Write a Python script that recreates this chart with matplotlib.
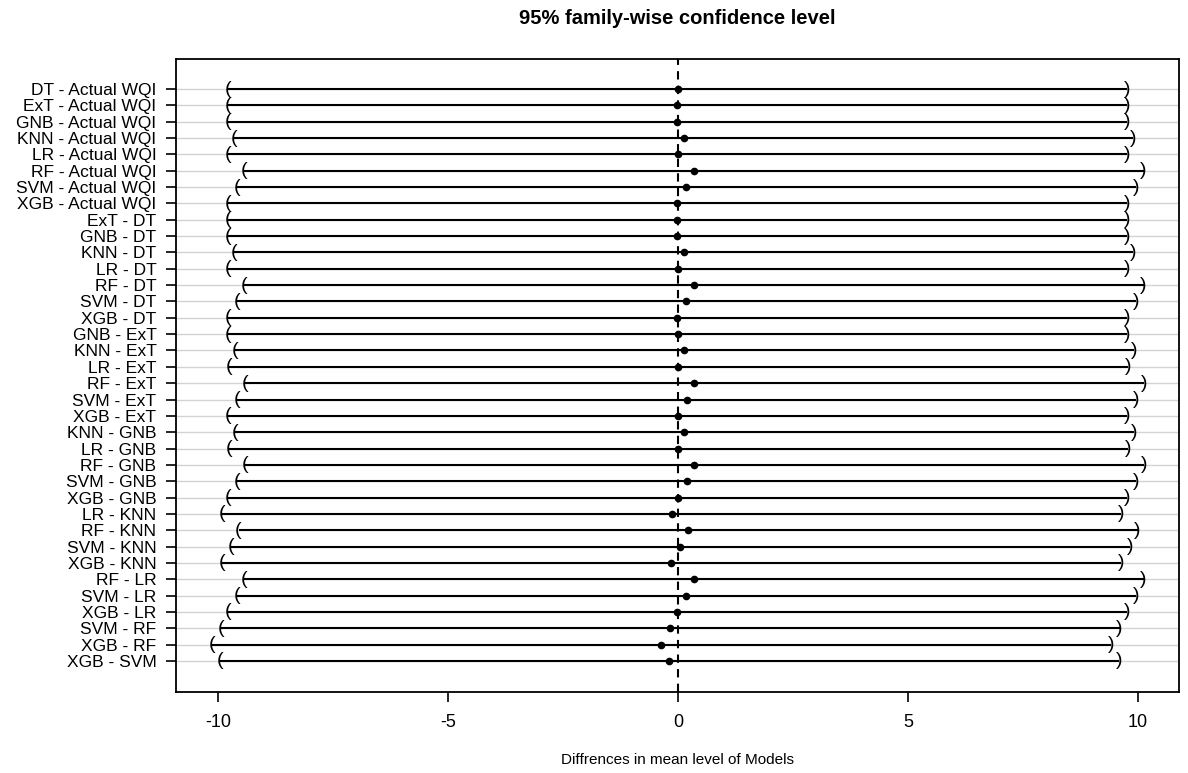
import numpy as np
import matplotlib
matplotlib.use("Agg")
from matplotlib import pyplot as plt

plt.rcParams['font.family'] = ['Liberation Sans', 'DejaVu Sans']

# comparaciones (de arriba hacia abajo)
comparisons = ["DT - Actual WQI", "ExT - Actual WQI", "GNB - Actual WQI", "KNN - Actual WQI",
               "LR - Actual WQI", "RF - Actual WQI", "SVM - Actual WQI", "XGB - Actual WQI",
               "ExT - DT", "GNB - DT", "KNN - DT", "LR - DT", "RF - DT", "SVM - DT", "XGB - DT",
               "GNB - ExT", "KNN - ExT", "LR - ExT", "RF - ExT", "SVM - ExT", "XGB - ExT",
               "KNN - GNB", "LR - GNB", "RF - GNB", "SVM - GNB", "XGB - GNB",
               "LR - KNN", "RF - KNN", "SVM - KNN", "XGB - KNN",
               "RF - LR", "SVM - LR", "XGB - LR", "SVM - RF", "XGB - RF", "XGB - SVM"]

diff = [0.00, -0.01, -0.01, 0.13, 0.00, 0.35, 0.18, -0.01,
        -0.01, -0.01, 0.13, 0.00, 0.35, 0.18, -0.01,
        0.00, 0.14, 0.01, 0.36, 0.19, 0.00,
        0.14, 0.01, 0.36, 0.19, 0.00,
        -0.13, 0.22, 0.05, -0.14,
        0.35, 0.18, -0.01, -0.17, -0.36, -0.19]

lwr = [-9.77, -9.78, -9.78, -9.64, -9.77, -9.42, -9.59, -9.78,
       -9.78, -9.78, -9.64, -9.77, -9.42, -9.59, -9.78,
       -9.77, -9.63, -9.76, -9.41, -9.58, -9.77,
       -9.63, -9.76, -9.41, -9.58, -9.77,
       -9.90, -9.55, -9.72, -9.91,
       -9.42, -9.59, -9.78, -9.94, -10.13, -9.96]

upr = [9.77, 9.76, 9.76, 9.90, 9.77, 10.12, 9.95, 9.76,
       9.76, 9.76, 9.90, 9.77, 10.12, 9.95, 9.76,
       9.77, 9.91, 9.78, 10.13, 9.96, 9.77,
       9.91, 9.78, 10.13, 9.96, 9.77,
       9.64, 9.99, 9.82, 9.63,
       10.12, 9.95, 9.76, 9.60, 9.41, 9.58]

n = len(comparisons)
yvals = np.arange(n, 0, -1)

fig = plt.figure(figsize=(11.88, 7.73), dpi=100)
ax = fig.add_axes([0.1481, 0.1048, 0.8443, 0.8189])

# lineas grises de fondo
for y in yvals:
    ax.axhline(y, color='#d3d3d3', lw=1.0, zorder=1)

ax.hlines(yvals, lwr, upr, color='black', lw=1.5, zorder=2)
for x, y in zip(lwr, yvals):
    ax.text(x, y, "(", ha='center', va='center', fontsize=14, zorder=3)
for x, y in zip(upr, yvals):
    ax.text(x, y, ")", ha='center', va='center', fontsize=14, zorder=3)
ax.plot(diff, yvals, 'o', color='black', ms=4.5, zorder=4)

ax.axvline(0, color='black', lw=1.5, ls=(0, (4, 3)), zorder=2)

ax.set_xlim(-10.91, 10.89)
ax.set_ylim(1 - 1.9, n + 1.84)
ax.set_xticks([-10, -5, 0, 5, 10])
ax.set_xticklabels(["-10", "-5", "0", "5", "10"])
ax.set_yticks(yvals)
ax.set_yticklabels(comparisons)
ax.tick_params(axis='x', length=7, width=1.2, labelsize=13, pad=9)
ax.tick_params(axis='y', length=7, width=1.2, labelsize=12.5, pad=7)
for s in ax.spines.values():
    s.set_linewidth(1.3)

ax.set_xlabel("Diffrences in mean level of Models", fontsize=11, labelpad=16)
fig.text(0.57, 0.976, "95% family-wise confidence level", ha='center', va='center',
         fontsize=14.5, fontweight='bold')

plt.savefig("out.png", dpi=100)
